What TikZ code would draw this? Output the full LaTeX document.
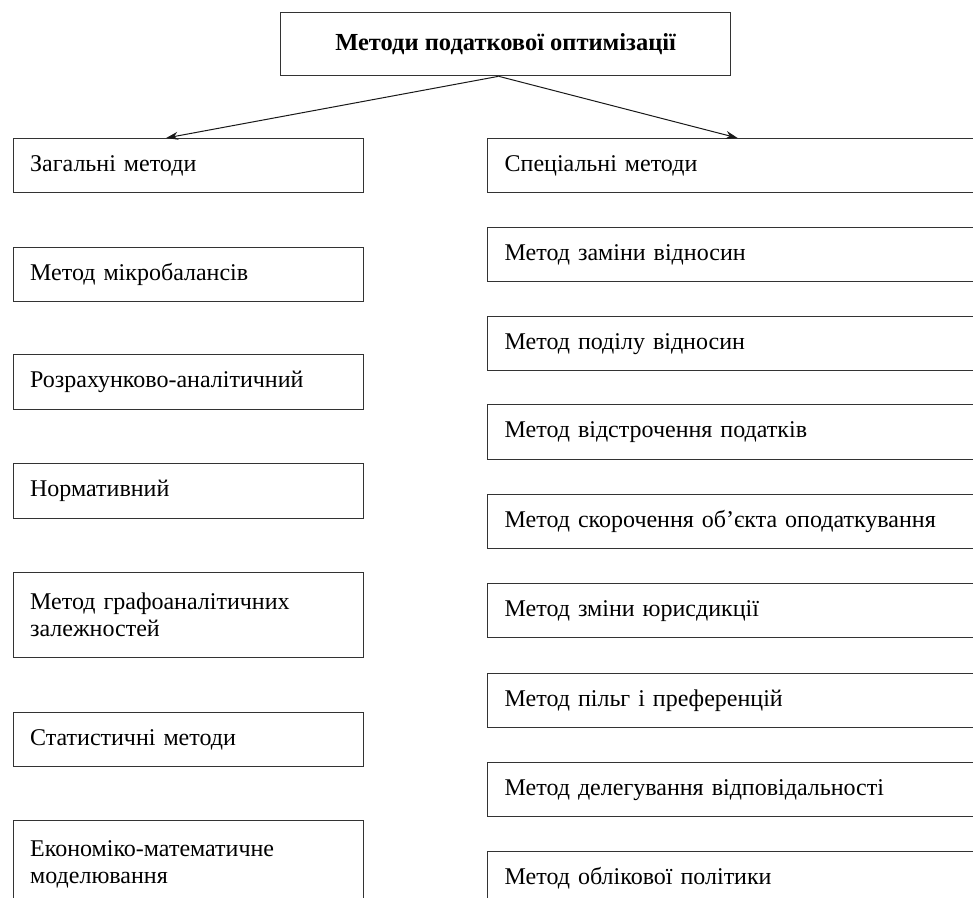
\documentclass[tikz,border=0pt]{standalone}
\usepackage{fontspec}
\setmainfont{Liberation Serif}
\usetikzlibrary{arrows.meta,calc}
\tikzset{
  box/.style={draw=black!80, line width=1.3bp, anchor=north west, inner xsep=17bp, inner ysep=0pt,
    align=left, font=\fontsize{24bp}{27bp}\selectfont},
  lbox/.style={box, text width=316bp},
  rbox/.style={box, text width=480bp},
  titlebox/.style={draw=black!80, line width=1.3bp, anchor=north west, inner sep=0pt,
    minimum width=450bp, minimum height=63bp, font=\fontsize{24.5bp}{27bp}\selectfont\bfseries},
  link/.style={draw=black!90, line width=1bp, -{Stealth[length=12bp,width=8bp]}}
}
\begin{document}
\begin{tikzpicture}[x=1bp,y=-1bp]
\useasboundingbox (0,0) rectangle (973,898);
\clip (0,0) rectangle (973,898);
\node[titlebox] (top) at (280,12) {Методи податкової оптимізації};
% left column
\node[lbox, minimum height=54bp] (l1) at (12.5,138) {Загальні методи};
\node[lbox, minimum height=54bp] (l2) at (12.5,247) {Метод мікробалансів};
\node[lbox, minimum height=55bp] (l3) at (12.5,354) {Розрахунково-аналітичний};
\node[lbox, minimum height=55bp] (l4) at (12.5,463) {Нормативний};
\node[lbox, minimum height=85bp] (l5) at (12.5,572) {Метод графоаналітичних\\залежностей};
\node[lbox, minimum height=54bp] (l6) at (12.5,712) {Статистичні методи};
\node[lbox, minimum height=88bp] (l7) at (12.5,820) {Економіко-математичне\\моделювання};
% right column
\node[rbox, minimum height=54bp] (r1) at (487,138) {Спеціальні методи};
\node[rbox, minimum height=54bp] (r2) at (487,227) {Метод заміни відносин};
\node[rbox, minimum height=54bp] (r3) at (487,316) {Метод поділу відносин};
\node[rbox, minimum height=55bp] (r4) at (487,404) {Метод відстрочення податків};
\node[rbox, minimum height=54bp] (r5) at (487,494) {Метод скорочення об’єкта оподаткування};
\node[rbox, minimum height=54bp] (r6) at (487,583) {Метод зміни юрисдикції};
\node[rbox, minimum height=54bp] (r7) at (487,673) {Метод пільг і преференцій};
\node[rbox, minimum height=54bp] (r8) at (487,762) {Метод делегування відповідальності};
\node[rbox, minimum height=54bp] (r9) at (487,851) {Метод облікової політики};
% connectors
\coordinate (src) at ([xshift=-7bp]top.south);
\draw[link] (src) -- ([xshift=-22bp]l1.north);
\draw[link] (src) -- ([xshift=-7bp]r1.north);
\end{tikzpicture}
\end{document}
